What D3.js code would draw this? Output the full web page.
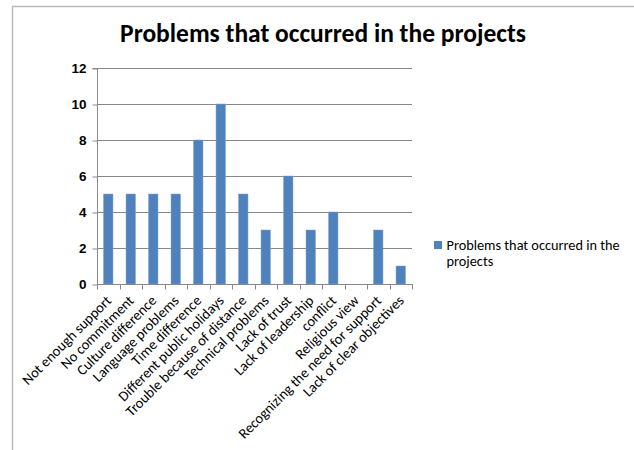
<!DOCTYPE html>
<html lang="en">
<head>
<meta charset="utf-8">
<title>Problems that occurred in the projects</title>
<style>
  body { margin: 0; background: #fff; }
  svg { display: block; font-family: Carlito, "Open Sans", sans-serif; }
  .grid line { stroke: #888; stroke-width: 1; }
  .axis path, .axis line { stroke: #888; }
  .axis text { fill: #000; }
</style>
</head>
<body>
<svg width="634" height="450"></svg>
<script src="https://d3js.org/d3.v7.min.js"></script>
<script>
  const categories = [
    "Not enough support", "No commitment", "Culture difference", "Language problems",
    "Time difference", "Different public holidays", "Trouble because of distance",
    "Technical problems", "Lack of trust", "Lack of leadership", "conflict",
    "Religious view", "Recognizing the need for support", "Lack of clear objectives"
  ];
  const values = [5, 5, 5, 5, 8, 10, 5, 3, 6, 3, 4, 0, 3, 1];
  const yTicks = [0, 2, 4, 6, 8, 10, 12];
  const seriesName = "Problems that occurred in the projects";

  const svg = d3.select("svg");

  // outer frame: only top and left edges are visible
  svg.append("path")
    .attr("d", "M12.5,450V6.5H634")
    .attr("fill", "none")
    .attr("stroke", "#bbb")
    .attr("stroke-width", 1.5);

  const plot = {left: 97, right: 412, top: 68, bottom: 284};

  const x = d3.scaleBand()
    .domain(categories)
    .range([plot.left, plot.right])
    .paddingInner(0.58)
    .paddingOuter(0.29);

  const y = d3.scaleLinear()
    .domain([0, 12])
    .range([plot.bottom, plot.top]);

  // gridlines
  svg.append("g").attr("class", "grid")
    .selectAll("line")
    .data(yTicks.slice(1))
    .join("line")
    .attr("x1", plot.left).attr("x2", plot.right)
    .attr("y1", d => Math.round(y(d)) + 0.5)
    .attr("y2", d => Math.round(y(d)) + 0.5);

  // y axis
  const yAxis = svg.append("g").attr("class", "axis")
    .attr("transform", `translate(${plot.left + 0.5},0.5)`)
    .call(d3.axisLeft(y).tickValues(yTicks).tickSize(5).tickPadding(6));
  yAxis.select(".domain").attr("d", `M-5,${y(12)}H0V${y(0)}`);
  yAxis.selectAll("text").attr("font-size", 13.5).attr("font-weight", "bold").attr("fill", "#222");

  // bars
  svg.append("g")
    .selectAll("rect")
    .data(values)
    .join("rect")
    .attr("x", (d, i) => x(categories[i]))
    .attr("y", d => y(d))
    .attr("width", x.bandwidth())
    .attr("height", d => y(0) - y(d))
    .attr("fill", "#4F81BD")
    .attr("stroke", "#7ea3d3")
    .attr("stroke-width", 0.5);

  // x axis with ticks at category boundaries
  const step = x.step();
  const xg = svg.append("g").attr("class", "axis")
    .attr("transform", `translate(0,${plot.bottom + 0.5})`);
  xg.append("line")
    .attr("x1", plot.left).attr("x2", plot.right + 1)
    .attr("y1", 0).attr("y2", 0);
  xg.selectAll("line.tk")
    .data(d3.range(categories.length + 1))
    .join("line")
    .attr("class", "tk")
    .attr("x1", i => Math.round(plot.left + i * step) + 0.5)
    .attr("x2", i => Math.round(plot.left + i * step) + 0.5)
    .attr("y1", 0).attr("y2", 5);
  xg.selectAll("text")
    .data(categories)
    .join("text")
    .attr("text-anchor", "end")
    .attr("font-size", 14.5)
    .attr("transform", d => `translate(${x(d) + x.bandwidth() / 2 + 4},${17}) rotate(-45)`)
    .text(d => d);

  // title
  svg.append("text")
    .attr("x", 323)
    .attr("y", 42)
    .attr("text-anchor", "middle")
    .attr("font-size", 25.5)
    .attr("font-weight", "bold")
    .text(seriesName);

  // legend
  const lg = svg.append("g").attr("transform", "translate(434,241)");
  lg.append("rect").attr("width", 8).attr("height", 8).attr("fill", "#4F81BD");
  lg.append("text")
    .attr("font-size", 14.3)
    .selectAll("tspan")
    .data(["Problems that occurred in the", "projects"])
    .join("tspan")
    .attr("x", 12.5)
    .attr("y", (d, i) => 8.5 + i * 16.5)
    .text(d => d);
</script>
</body>
</html>
